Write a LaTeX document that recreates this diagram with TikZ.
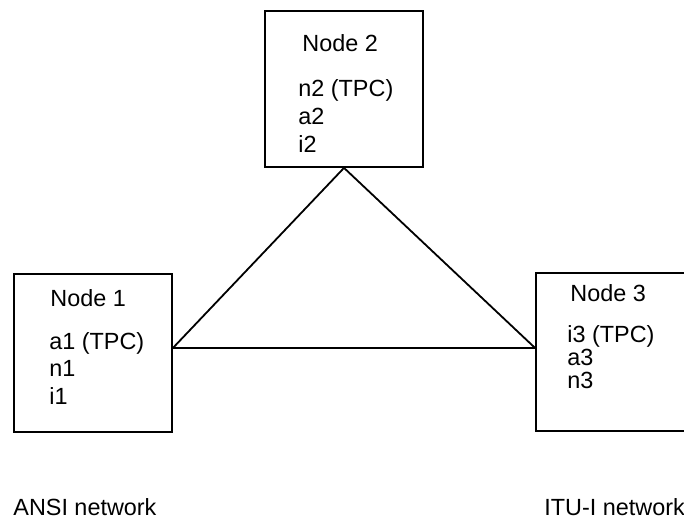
\documentclass[tikz,border=0pt]{standalone}
\usepackage{fontspec}
\setmainfont{Liberation Sans}
\usepackage{tikz}
\usetikzlibrary{positioning}

\begin{document}
\begin{tikzpicture}[
  x=0.5pt, y=-0.5pt,
  sigbox/.style={
    rectangle,
    draw,
    line width=0.9pt,
    minimum width=79pt,
    minimum height=#1,
    inner sep=0pt
  },
  title/.style={
    anchor=base west,
    inner sep=0pt,
    font=\fontsize{11.7}{13.5}\selectfont
  },
  codes/.style={
    anchor=base west,
    inner sep=0pt,
    align=left,
    font=\fontsize{11.7}{#1}\selectfont
  },
  link/.style={
    line width=0.9pt
  }
]
\useasboundingbox (0,0) rectangle (684,517);

% Signalling points
\node[sigbox=79pt] (n1box) at (93,353) {};
\node[sigbox=78pt] (n2box) at (344,89) {};
\node[sigbox=79pt] (n3box) at (615,352) {};

% Names and point codes (base is the last line)
\node[title] (n1name) at (50,307) {Node 1};
\node[codes=13.5pt] (n1codes) at (49,404) {a1 (TPC)\\n1\\i1};
\node[title] (n2name) at (302,52) {Node 2};
\node[codes=14pt] (n2codes) at (298,153) {n2 (TPC)\\a2\\i2};
\node[title] (n3name) at (570,302) {Node 3};
\node[codes=11.25pt] (n3codes) at (567,388) {i3 (TPC)\\a3\\n3};

% Links
\draw[link] ([yshift=2.5pt]n1box.east) -- (n2box.south);
\draw[link] (n2box.south) -- ([yshift=2pt]n3box.west);
\draw[link] ([yshift=2.5pt]n1box.east) -- ([yshift=2pt]n3box.west);

% Networks
\node[title] (ansi) at (13,515) {ANSI network};
\node[title] (itu) at (544,515) {ITU-I network};
\end{tikzpicture}
\end{document}
